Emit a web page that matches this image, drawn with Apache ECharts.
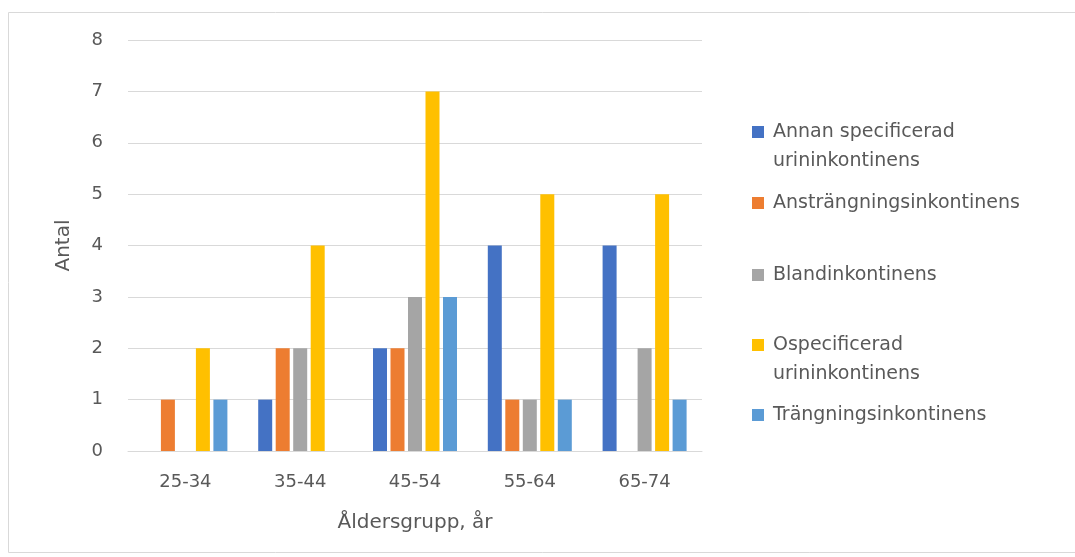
<!DOCTYPE html>
<html>
<head>
<meta charset="utf-8">
<script src="https://cdn.jsdelivr.net/npm/echarts@6/dist/echarts.min.js"></script>
<style>
  html, body { margin: 0; padding: 0; background: #fff; }
  #chart { width: 1075px; height: 557px; }
</style>
</head>
<body>
<div id="chart"></div>
<script>
const categories = ['25-34', '35-44', '45-54', '55-64', '65-74'];
const seriesNames = [
    'Annan specificerad\nurininkontinens',
    'Ansträngningsinkontinens',
    'Blandinkontinens',
    'Ospecificerad\nurininkontinens',
    'Trängningsinkontinens'
];
const annan = [0, 1, 2, 4, 4];
const anstrangning = [1, 2, 2, 1, 0];
const bland = [0, 2, 3, 1, 2];
const ospecificerad = [2, 4, 7, 5, 5];
const trangning = [1, 0, 3, 1, 1];
const colors = ['#4472C4', '#ED7D31', '#A5A5A5', '#FFC000', '#5B9BD5'];

const chartDom = document.getElementById('chart');
const myChart = echarts.init(chartDom);

const values = [annan, anstrangning, bland, ospecificerad, trangning];
const lh = 29;
const legendCenters = [132, 203, 275, 345, 415]; // y of first text line
const font = '"DejaVu Sans", "Open Sans", sans-serif';

// one legend per item so the uneven spacing of the original can be kept;
// two-line names get an empty line on top so the icon sits on the first line
const legends = seriesNames.map((name, i) => {
    const twoLines = name.indexOf('\n') >= 0;
    return {
        data: [name],
        orient: 'vertical',
        left: 752,
        top: twoLines ? legendCenters[i] - lh * 1.5 : legendCenters[i] - lh / 2,
        padding: 0,
        itemWidth: 12,
        itemHeight: 12,
        icon: 'rect',
        selectedMode: false,
        formatter: n => (n.indexOf('\n') >= 0 ? '\n' + n : n),
        textStyle: {
            color: '#595959',
            fontSize: 19,
            fontFamily: font,
            lineHeight: lh,
            padding: [0, 0, 0, 4]
        }
    };
});

const option = {
    animation: false,
    color: colors,
    legend: legends,
    grid: {
        left: 128,
        right: 373,
        top: 40,
        bottom: 106
    },
    xAxis: {
        type: 'category',
        data: categories,
        name: 'Åldersgrupp, år',
        nameLocation: 'middle',
        nameGap: 62,
        nameTextStyle: { color: '#595959', fontSize: 20, fontFamily: font },
        axisLine: { lineStyle: { color: '#d9d9d9' } },
        axisTick: { show: false },
        axisLabel: { color: '#595959', fontSize: 18, fontFamily: font, margin: 22 }
    },
    yAxis: {
        type: 'value',
        min: 0,
        max: 8,
        interval: 1,
        name: 'Antal',
        nameLocation: 'middle',
        nameGap: 54,
        nameTextStyle: { color: '#595959', fontSize: 20, fontFamily: font },
        axisLine: { show: false },
        axisTick: { show: false },
        splitLine: { lineStyle: { color: '#d9d9d9' } },
        axisLabel: { color: '#595959', fontSize: 18, fontFamily: font, margin: 25 }
    },
    graphic: [{
        type: 'rect',
        shape: { x: 8.5, y: 12.5, width: 1070, height: 540 },
        style: { fill: 'none', stroke: '#d9d9d9', lineWidth: 1 },
        silent: true,
        z: -1
    }],
    series: seriesNames.map((name, i) => ({
        name: name,
        type: 'bar',
        data: values[i],
        barWidth: 14,
        barGap: '25%',
        itemStyle: { color: colors[i] }
    }))
};

myChart.setOption(option);
window.addEventListener('resize', () => myChart.resize());
</script>
</body>
</html>
